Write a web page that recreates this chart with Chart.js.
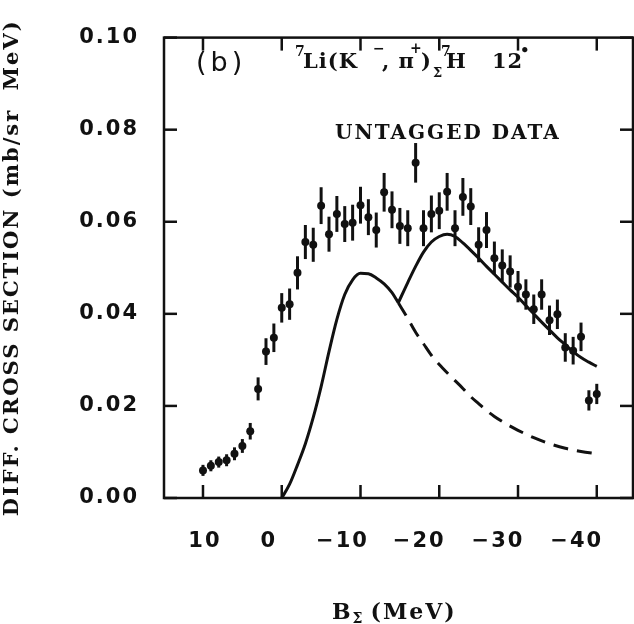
<!DOCTYPE html>
<html>
<head>
<meta charset="utf-8">
<script src="https://cdn.jsdelivr.net/npm/chart.js@4"></script>
<style>
  html, body { margin: 0; padding: 0; background: #fff; overflow: hidden; }
</style>
</head>
<body>
<canvas id="chart" width="634" height="624"></canvas>
<script>
// binding energy B_Sigma (MeV), one point per MeV
const energies = [10, 9, 8, 7, 6, 5, 4, 3, 2, 1, 0, -1, -2, -3, -4, -5, -6, -7, -8, -9,
  -10, -11, -12, -13, -14, -15, -16, -17, -18, -19, -20, -21, -22, -23, -24, -25, -26, -27, -28, -29,
  -30, -31, -32, -33, -34, -35, -36, -37, -38, -39, -40];
const xsec = [0.0060, 0.0070, 0.0078, 0.0082, 0.0096, 0.0113, 0.0145, 0.0237, 0.0318, 0.0348,
  0.0413, 0.0421, 0.0489, 0.0556, 0.0550, 0.0635, 0.0573, 0.0617, 0.0595, 0.0598,
  0.0636, 0.0610, 0.0582, 0.0664, 0.0626, 0.0591, 0.0586, 0.0728, 0.0586, 0.0617,
  0.0624, 0.0665, 0.0586, 0.0654, 0.0633, 0.0550, 0.0582, 0.0521, 0.0505, 0.0492,
  0.0459, 0.0442, 0.0410, 0.0442, 0.0386, 0.0399, 0.0327, 0.0320, 0.0350, 0.0212, 0.0226];
const xsecErr = [0.0012, 0.0012, 0.0012, 0.0013, 0.0014, 0.0015, 0.0018, 0.0025, 0.0029, 0.0031,
  0.0032, 0.0034, 0.0036, 0.0037, 0.0037, 0.0040, 0.0038, 0.0039, 0.0039, 0.0039,
  0.0040, 0.0039, 0.0038, 0.0042, 0.0040, 0.0039, 0.0039, 0.0043, 0.0039, 0.0040,
  0.0040, 0.0041, 0.0039, 0.0041, 0.0040, 0.0038, 0.0039, 0.0036, 0.0035, 0.0035,
  0.0034, 0.0033, 0.0032, 0.0033, 0.0032, 0.0032, 0.0031, 0.0030, 0.0031, 0.0022, 0.0022];

// calculated curves (solid = total, dashed = first component continued)
const fitLeftE = [0, -1, -2, -3, -4, -5, -6, -7, -8, -9, -10, -11, -12, -13, -14, -14.8];
const fitLeftY = [0, 0.0030, 0.0072, 0.0118, 0.0175, 0.0242, 0.0318, 0.0388, 0.0442, 0.0474,
  0.0488, 0.0487, 0.0478, 0.0465, 0.0446, 0.0424];
const fitRightE = [-14.8, -16, -17, -18, -19, -20, -21, -22, -23, -24, -25, -26, -27, -28, -29,
  -30, -31, -32, -33, -34, -35, -36, -37, -38, -39, -40];
const fitRightY = [0.0424, 0.0468, 0.0503, 0.0534, 0.0556, 0.0568, 0.0573, 0.0568, 0.0554, 0.0538,
  0.0521, 0.0503, 0.0486, 0.0469, 0.0452, 0.0436, 0.0418, 0.0400, 0.0382, 0.0365,
  0.0348, 0.0333, 0.0318, 0.0305, 0.0295, 0.0286];
const dashE = [-14.8, -16, -17, -18, -19, -20, -21, -22, -23, -24, -25, -26, -27, -28, -29,
  -30, -32, -34, -36, -38, -40];
const dashY = [0.0424, 0.0390, 0.0360, 0.0335, 0.0310, 0.0290, 0.0272, 0.0255, 0.0238, 0.0220,
  0.0205, 0.0190, 0.0177, 0.0166, 0.0156, 0.0147, 0.0131, 0.0118, 0.0108, 0.0101, 0.0096];

const xTicks = [10, 0, -10, -20, -30, -40];
const yTicks = [0, 0.02, 0.04, 0.06, 0.08, 0.10];

const ink = "#111";
const toXY = (xs, ys) => xs.map((x, i) => ({ x: x, y: ys[i] }));

function fmtE(v) {
  return v < 0 ? "\u2212" + Math.abs(v) : String(v);
}

function seg(ctx, x1, y1, x2, y2) {
  ctx.beginPath();
  ctx.moveTo(x1, y1);
  ctx.lineTo(x2, y2);
  ctx.stroke();
}

// frame, inward tick marks, error bars and the texts
const paperPlugin = {
  id: "paper",
  beforeDraw(chart) {
    chart.ctx.letterSpacing = "2px";
  },
  beforeDatasetsDraw(chart) {
    const ctx = chart.ctx;
    const xs = chart.scales.x, ys = chart.scales.y;
    ctx.save();
    ctx.strokeStyle = ink;
    ctx.lineWidth = 3;
    energies.forEach((e, i) => {
      const px = xs.getPixelForValue(e);
      seg(ctx, px, ys.getPixelForValue(xsec[i] - xsecErr[i]), px, ys.getPixelForValue(xsec[i] + xsecErr[i]));
    });
    ctx.restore();
  },
  afterDraw(chart) {
    const ctx = chart.ctx;
    const a = chart.chartArea;
    const xs = chart.scales.x, ys = chart.scales.y;
    ctx.save();
    ctx.setLineDash([]);
    ctx.strokeStyle = ink;
    ctx.fillStyle = ink;
    ctx.lineWidth = 2.5;
    ctx.strokeRect(a.left, a.top, a.right - a.left, a.bottom - a.top);
    const tl = 13;
    xTicks.forEach(v => {
      const px = xs.getPixelForValue(v);
      seg(ctx, px, a.bottom, px, a.bottom - tl);
      seg(ctx, px, a.top, px, a.top + tl);
    });
    yTicks.forEach(v => {
      const py = ys.getPixelForValue(v);
      seg(ctx, a.left, py, a.left + tl, py);
      seg(ctx, a.right, py, a.right - tl, py);
    });

    // x tick labels (hand placed like the original figure)
    const shift = [2, -13, -18, -20, -20, -20];
    ctx.letterSpacing = "2px";
    ctx.font = 'bold 21px "DejaVu Sans"';
    ctx.textAlign = "center";
    ctx.textBaseline = "alphabetic";
    xTicks.forEach((v, i) => {
      ctx.fillText(fmtE(v), xs.getPixelForValue(v) + shift[i], 547);
    });

    // x axis title  B_Sigma (MeV)
    ctx.textAlign = "left";
    ctx.font = 'bold 22px "DejaVu Serif"';
    let x = 332;
    ctx.fillText("B", x, 619);
    x += ctx.measureText("B").width;
    ctx.font = 'bold 14px "DejaVu Serif"';
    ctx.fillText("\u03A3", x, 623);
    x += ctx.measureText("\u03A3").width + 6;
    ctx.font = 'bold 22px "DejaVu Serif"';
    ctx.fillText("(MeV)", x, 619);

    // panel label and reaction
    ctx.letterSpacing = "4px";
    ctx.font = '27px "DejaVu Sans"';
    ctx.fillText("(b)", 196, 71);
    ctx.letterSpacing = "1px";
    const sup = 'bold 14px "DejaVu Serif"';
    const main = 'bold 21px "DejaVu Serif"';
    const piece = (t, px, py, f) => { ctx.font = f; ctx.fillText(t, px, py); };
    piece("7", 295, 56, sup);
    piece("Li(K", 303, 68, main);
    piece("\u2212", 373, 53, sup);
    piece(", \u03C0", 382, 68, main);
    piece("+", 410, 53, sup);
    piece(")", 421, 68, main);
    piece("7", 441, 56, sup);
    piece("\u03A3", 433, 77, 'bold 13px "DejaVu Serif"');
    piece("H", 446, 68, main);
    piece("12", 492, 68, main);
    piece("\u2022", 520, 55, 'bold 15px "DejaVu Serif"');
    ctx.letterSpacing = "2px";
    piece("UNTAGGED DATA", 335, 139, 'bold 20px "DejaVu Serif"');
    ctx.restore();
  }
};

new Chart(document.getElementById("chart"), {
  type: "scatter",
  data: {
    datasets: [
      {
        label: "untagged data",
        data: toXY(energies, xsec),
        pointRadius: 4,
        pointBackgroundColor: ink,
        pointBorderWidth: 0,
        showLine: false,
      },
      {
        label: "total",
        data: toXY(fitLeftE, fitLeftY),
        showLine: true,
        borderColor: ink,
        borderWidth: 3,
        pointRadius: 0,
        cubicInterpolationMode: "monotone",
      },
      {
        label: "total (2)",
        data: toXY(fitRightE, fitRightY),
        showLine: true,
        borderColor: ink,
        borderWidth: 3,
        pointRadius: 0,
        cubicInterpolationMode: "monotone",
      },
      {
        label: "first component",
        data: toXY(dashE, dashY),
        showLine: true,
        borderColor: ink,
        borderWidth: 3,
        borderDash: [15, 9],
        pointRadius: 0,
        cubicInterpolationMode: "monotone",
      },
    ],
  },
  options: {
    responsive: false,
    animation: false,
    layout: { autoPadding: false, padding: { top: 35, right: 1, left: 0, bottom: 0 } },
    plugins: { legend: { display: false }, tooltip: { enabled: false } },
    scales: {
      x: {
        type: "linear",
        reverse: true,
        min: -44.6,
        max: 14.95,
        grid: { display: false, drawTicks: false },
        border: { display: false },
        ticks: { display: false },
        afterBuildTicks: (scale) => { scale.ticks = xTicks.map(v => ({ value: v })); },
        afterFit: (scale) => { scale.height = 126; },
      },
      y: {
        min: 0,
        max: 0.10,
        grid: { display: false, drawTicks: false },
        border: { display: false },
        afterBuildTicks: (scale) => { scale.ticks = yTicks.map(v => ({ value: v })); },
        afterFit: (scale) => { scale.width = 164; },
        ticks: {
          color: ink,
          padding: 25,
          font: { family: "DejaVu Sans", size: 21, weight: "bold" },
          callback: (v) => v.toFixed(2),
        },
        title: {
          display: true,
          text: "DIFF. CROSS SECTION (mb/sr  MeV)",
          color: ink,
          padding: 0,
          font: { family: "DejaVu Serif", size: 21, weight: "bold" },
        },
      },
    },
  },
  plugins: [paperPlugin],
});
</script>
</body>
</html>
